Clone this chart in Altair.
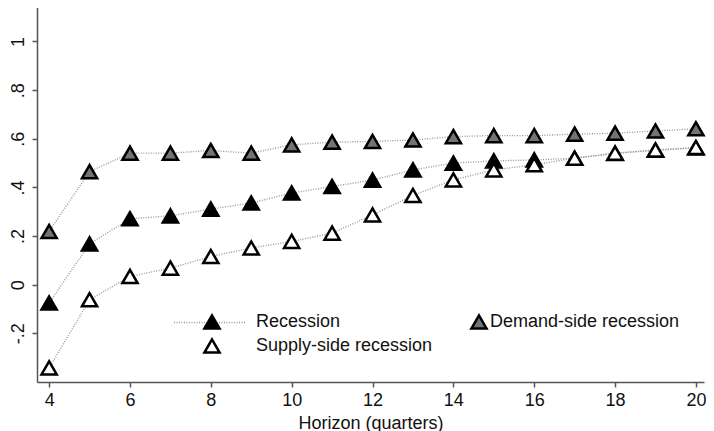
import altair as alt
import pandas as pd

quarters = list(range(4, 21))
recession = [-0.075, 0.168, 0.271, 0.283, 0.311, 0.336, 0.377, 0.404, 0.430,
             0.472, 0.500, 0.509, 0.513, 0.520, 0.540, 0.553, 0.562]
demand = [0.219, 0.465, 0.541, 0.541, 0.552, 0.541, 0.575, 0.586, 0.589,
          0.595, 0.609, 0.613, 0.613, 0.619, 0.623, 0.632, 0.641]
supply = [-0.342, -0.062, 0.034, 0.068, 0.116, 0.151, 0.178, 0.212, 0.287,
          0.367, 0.431, 0.472, 0.493, 0.520, 0.541, 0.554, 0.564]
series_names = ["Recession", "Demand-side recession", "Supply-side recession"]
x_ticks = list(range(4, 21, 2))
y_ticks = [-0.2, 0, 0.2, 0.4, 0.6, 0.8, 1.0]

rows = []
for name, vals in zip(series_names, [recession, demand, supply]):
    for q, v in zip(quarters, vals):
        rows.append({"quarter": q, "value": v, "series": name})
df = pd.DataFrame(rows)

FONT = "Liberation Sans"
TRI = 230
SW = 2.5

x_enc = alt.X("quarter:Q",
              scale=alt.Scale(domain=[3.7, 20.2], nice=False, zero=False),
              axis=alt.Axis(values=x_ticks, title="Horizon (quarters)", format="d",
                            labelPadding=4, titlePadding=5))
y_enc = alt.Y("value:Q",
              scale=alt.Scale(domain=[-0.4, 1.15], nice=False, zero=False),
              axis=alt.Axis(values=y_ticks, title=None, labelAngle=270,
                            labelAlign="center", labelBaseline="bottom",
                            labelPadding=5,
                            labelExpr="datum.value == 0 ? '0' : (abs(datum.value - 1) < 0.001 ? '1' : (datum.value < 0 ? '-' : '') + '.' + round(abs(datum.value) * 10))"))

base = alt.Chart(df)

rec_line = base.transform_filter(alt.datum.series == "Recession").mark_line(
    color="#999999", strokeWidth=1.4
).encode(
    x=x_enc, y=y_enc,
    strokeDash=alt.StrokeDash("series:N",
                              scale=alt.Scale(domain=["Recession"], range=[[1, 1.5]]),
                              legend=alt.Legend(title=None, orient="none", legendX=136, legendY=281,
                                                symbolType="stroke", symbolSize=5041,
                                                symbolStrokeColor="#999999", symbolStrokeWidth=1.4,
                                                labelExpr="''", padding=0))
)

other_lines = base.transform_filter(alt.datum.series != "Recession").mark_line(
    color="#999999", strokeWidth=1.4, strokeDash=[1, 1.5]
).encode(x=x_enc, y=y_enc, detail="series:N")

pts = base.transform_filter(alt.datum.series != "Demand-side recession").mark_point(
    shape="triangle-up", filled=True, stroke="black", strokeWidth=SW, size=TRI, opacity=1
).encode(
    x=x_enc, y=y_enc,
    fill=alt.Fill("series:N",
                  scale=alt.Scale(domain=["Recession", "Supply-side recession"],
                                  range=["black", "white"]),
                  legend=alt.Legend(title=None, orient="none", legendX=166, legendY=308,
                                    symbolType="triangle-up", symbolSize=TRI,
                                    symbolStrokeColor="black", symbolStrokeWidth=SW,
                                    symbolOpacity=1, labelLimit=400,
                                    labelFont=FONT, labelFontSize=18, labelColor="#111111",
                                    labelOffset=35, rowPadding=0, padding=0,
                                    direction="vertical"))
)

dem_pts = base.transform_filter(alt.datum.series == "Demand-side recession").mark_point(
    shape="triangle-up", filled=True, stroke="black",
    strokeWidth=SW, size=TRI, opacity=1
).encode(
    x=x_enc, y=y_enc,
    color=alt.Color("series:N",
                    scale=alt.Scale(domain=["Demand-side recession"], range=["#737373"]),
                    legend=alt.Legend(title=None, orient="none", legendX=433, legendY=308,
                                      symbolType="triangle-up", symbolSize=TRI,
                                      symbolStrokeColor="black", symbolStrokeWidth=SW,
                                      symbolOpacity=1, labelLimit=400,
                                      labelFont=FONT, labelFontSize=18, labelColor="#111111",
                                      labelOffset=2, padding=0))
)

chart = alt.layer(rec_line, other_lines, pts, dem_pts).resolve_legend(
    fill="independent", color="independent", strokeDash="independent"
).properties(
    width=667, height=377,
    autosize=alt.AutoSizeParams(type="none"),
    padding={"left": 29, "top": -3, "right": 2, "bottom": 55},
).configure_view(stroke=None).configure_axis(
    grid=False, domainColor="#555555", domainWidth=1.5, tickColor="#555555",
    tickWidth=1.5, tickSize=5, labelFont=FONT, labelFontSize=18, labelColor="#111111",
    titleFont=FONT, titleFontSize=18, titleFontWeight="normal", titleColor="#111111"
)

chart.save("out.html", embed_options={"renderer": "svg", "actions": False})
